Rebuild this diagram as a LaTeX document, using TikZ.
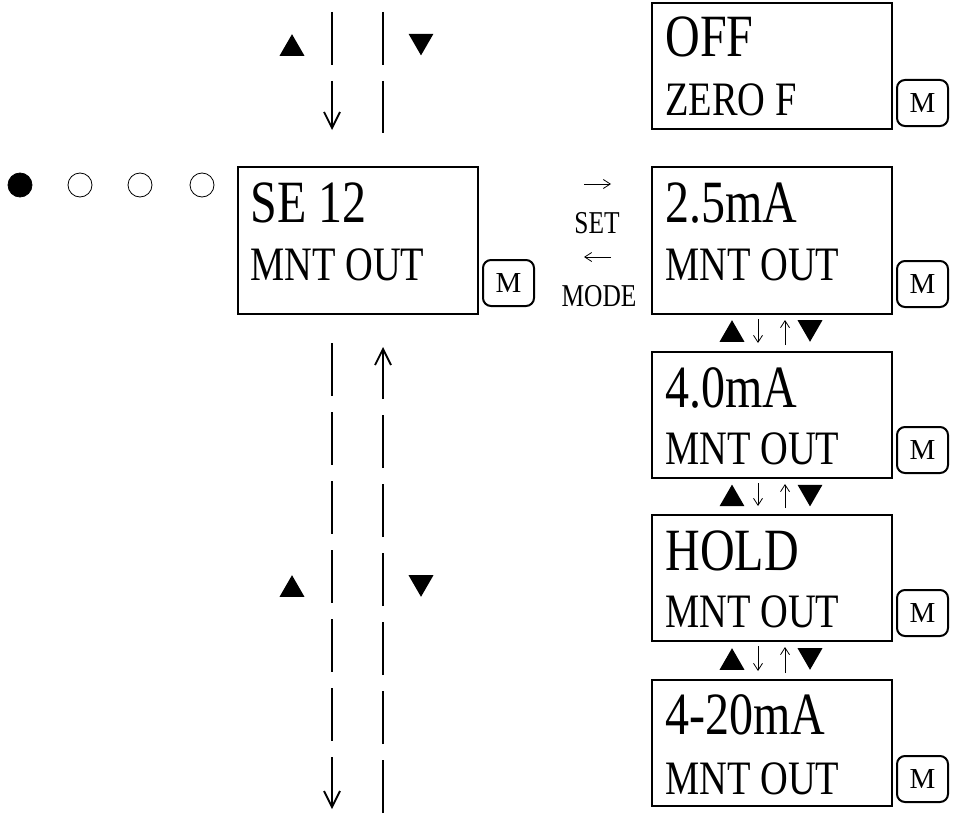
\documentclass[tikz,border=0pt]{standalone}
\usepackage{fontspec}
\setmainfont{Liberation Serif}
\newfontfamily\lcdfont{Liberation Serif}[FakeStretch=0.8]
\usetikzlibrary{calc,shapes.geometric,arrows.meta}

\begin{document}
\begin{tikzpicture}[x=0.5pt,y=-0.5pt,
    lcd/.style={draw, line width=1pt, minimum width=120pt, minimum height=63pt, inner sep=0pt, anchor=north west},
    tall/.style={lcd, minimum height=73.5pt},
    key/.style={draw, line width=1pt, rounded corners=4pt, minimum width=25.5pt, minimum height=23pt, inner sep=0pt, anchor=south west, font=\fontsize{14.5}{15}\selectfont},
    lineone/.style={anchor=base west, inner sep=0pt, font=\lcdfont\fontsize{30}{30}\selectfont},
    linetwo/.style={anchor=base west, inner sep=0pt, font=\lcdfont\fontsize{24}{24}\selectfont},
    small/.style={anchor=base, inner sep=0pt, font=\lcdfont\fontsize{15.9}{16}\selectfont},
    up/.style={regular polygon, regular polygon sides=3, fill, inner sep=0pt, minimum size=14.4pt},
    down/.style={up, shape border rotate=180},
    lamp/.style={circle, draw, line width=0.4pt, minimum size=12pt, inner sep=0pt},
    rail/.style={line width=0.9pt, dash pattern=on 26.5pt off 8pt},
    tip/.style={-{Straight Barb[length=8pt,width=8pt]}},
    step arrow/.style={line width=0.4pt, -{Straight Barb[length=3.5pt,width=4.5pt]}}
]
    \useasboundingbox (0,0) rectangle (957,813);

    % Draw lamps
    \node[lamp, fill] (L1) at (20,185) {};
    \node[lamp] (L2) at (80,185) {};
    \node[lamp] (L3) at (140,185) {};
    \node[lamp] (L4) at (202,185) {};

    % Draw main display
    \node[tall] (se) at (237,166) {};
    \node[lineone] at (250,222) {SE 12};
    \node[linetwo] at (250,280) {MNT OUT};
    \node[key] (kse) at (482,307) {M};

    % Draw SET / MODE
    \coordinate (setL) at (584,184);
    \coordinate (setR) at (611,184);
    \coordinate (modeL) at (584,257);
    \coordinate (modeR) at (611,257);
    \draw[step arrow] (setL) -- (setR);
    \node[small] (set) at (597,233) {SET};
    \draw[step arrow] (modeR) -- (modeL);
    \node[small] (mode) at (599,306) {MODE};

    % Draw right displays
    \node[lcd] (off) at (651,2) {};
    \node[lineone] at (665,57) {OFF};
    \node[linetwo] at (665,115) {ZERO F};
    \node[key] (koff) at (896,127) {M};

    \node[tall] (b25) at (651,166) {};
    \node[lineone] at (665,222) {2.5mA};
    \node[linetwo] at (665,280) {MNT OUT};
    \node[key] (k25) at (896,308) {M};

    \node[lcd] (b40) at (651,351) {};
    \node[lineone] at (665,407) {4.0mA};
    \node[linetwo] at (665,464) {MNT OUT};
    \node[key] (k40) at (896,474) {M};

    \node[lcd] (hold) at (651,514) {};
    \node[lineone] at (665,570) {HOLD};
    \node[linetwo] at (665,627) {MNT OUT};
    \node[key] (khold) at (896,637) {M};

    \node[lcd] (b420) at (651,679) {};
    \node[lineone] at (665,734) {4-20mA};
    \node[linetwo] at (665,794) {MNT OUT};
    \node[key] (k420) at (896,803) {M};

    % Draw steps between displays
    \draw[step arrow, shorten <=2pt, shorten >=4pt] ($(b25.south)+(-14,0)$) -- ($(b40.north)+(-14,0)$);
    \draw[step arrow, shorten <=3pt, shorten >=2.5pt] ($(b40.north)+(13,0)$) -- ($(b25.south)+(13,0)$);
    \draw[step arrow, shorten <=2pt, shorten >=4pt] ($(b40.south)+(-14,0)$) -- ($(hold.north)+(-14,0)$);
    \draw[step arrow, shorten <=3pt, shorten >=2.5pt] ($(hold.north)+(13,0)$) -- ($(b40.south)+(13,0)$);
    \draw[step arrow, shorten <=2pt, shorten >=4pt] ($(hold.south)+(-14,0)$) -- ($(b420.north)+(-14,0)$);
    \draw[step arrow, shorten <=3pt, shorten >=2.5pt] ($(b420.north)+(13,0)$) -- ($(hold.south)+(13,0)$);
    \node[up] (u1) at (732,334.6) {};
    \node[down] (d1) at (810,327.4) {};
    \node[up] (u2) at (732,499) {};
    \node[down] (d2) at (810,492) {};
    \node[up] (u3) at (732,662.6) {};
    \node[down] (d3) at (810,655.4) {};

    % Draw rails
    \coordinate (topL) at (332,12);
    \coordinate (topLend) at (332,130);
    \coordinate (topR) at (383,12);
    \coordinate (topRend) at (383,133);
    \coordinate (botL) at (332,343);
    \coordinate (botLend) at (332,809);
    \coordinate (botR) at (383,813);
    \coordinate (botRend) at (383,347);
    \draw[rail, tip] (topL) -- (topLend);
    \draw[rail] (topR) -- (topRend);
    \draw[rail, tip] (botL) -- (botLend);
    \draw[rail, tip] (botR) -- (botRend);
    \node[up] (tu) at (292,48.6) {};
    \node[down] (td) at (421,41) {};
    \node[up] (bu) at (292,589.6) {};
    \node[down] (bd) at (421,582.4) {};
\end{tikzpicture}
\end{document}
